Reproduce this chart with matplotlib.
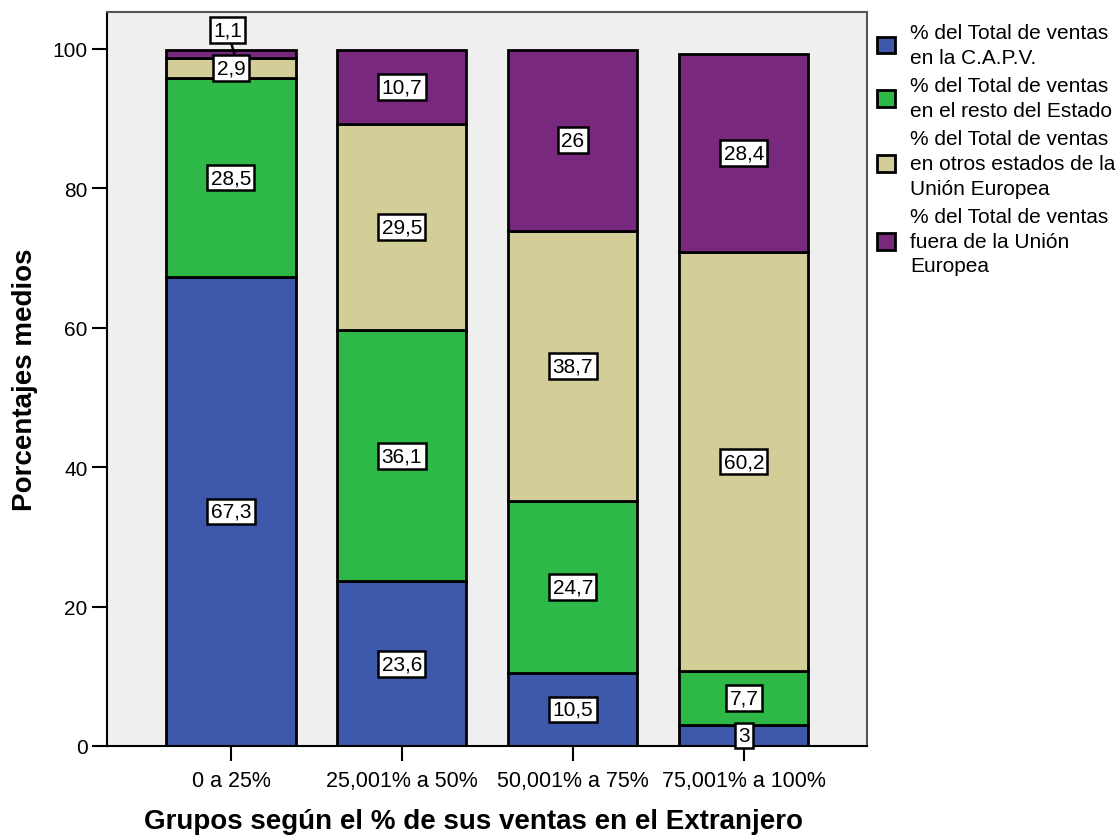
import matplotlib
matplotlib.use("Agg")
import matplotlib.pyplot as plt
from matplotlib.patches import Patch
import numpy as np

plt.rcParams['font.family'] = ['Liberation Sans', 'DejaVu Sans']

grupos = ["0 a 25%", "25,001% a 50%", "50,001% a 75%", "75,001% a 100%"]
series = [
    "% del Total de ventas\nen la C.A.P.V.",
    "% del Total de ventas\nen el resto del Estado",
    "% del Total de ventas\nen otros estados de la\nUnión Europea",
    "% del Total de ventas\nfuera de la Unión\nEuropea",
]
capv = [67.3, 23.6, 10.5, 3.0]
resto_estado = [28.5, 36.1, 24.7, 7.7]
otros_ue = [2.9, 29.5, 38.7, 60.2]
fuera_ue = [1.1, 10.7, 26.0, 28.4]
valores = [capv, resto_estado, otros_ue, fuera_ue]
colores = ["#3e58ac", "#2eb848", "#d3ce97", "#78287d"]

fig = plt.figure(figsize=(11.19, 8.37), dpi=100)
ax = fig.add_axes([107 / 1119, 1 - 747 / 837, (867 - 107) / 1119, (747 - 13) / 837])
ax.set_facecolor("#efefef")

x = np.arange(len(grupos))
ancho = 0.755
base = np.zeros(len(grupos))
for vals, col in zip(valores, colores):
    ax.bar(x, vals, ancho, bottom=base, color=col, edgecolor="black",
           linewidth=2, zorder=2)
    base = base + np.array(vals)


def fmt(v):
    s = ("%.1f" % v).replace(".", ",")
    return s[:-2] if s.endswith(",0") else s


caja = dict(boxstyle="square,pad=0.16", facecolor="white", edgecolor="black", linewidth=1.8)
base = np.zeros(len(grupos))
for si, vals in enumerate(valores):
    for gi, v in enumerate(vals):
        yc = base[gi] + v / 2
        if si == 3 and gi == 0:
            ax.annotate(fmt(v), xy=(gi + 0.02, yc), xytext=(gi - 0.02, 102.7),
                        ha="center", va="center", fontsize=15, bbox=caja,
                        arrowprops=dict(arrowstyle="-", color="black", lw=1.8,
                                        shrinkA=0, shrinkB=0), zorder=5)
        else:
            ax.text(gi, yc, fmt(v), ha="center", va="center", fontsize=15,
                    bbox=caja, zorder=5)
    base = base + np.array(vals)

ax.set_xlim(-0.725, 3.72)
ax.set_ylim(0, 105.3)
ax.set_yticks([0, 20, 40, 60, 80, 100])
ax.set_xticks(x)
ax.set_xticklabels(grupos)
ax.tick_params(axis="y", labelsize=15, length=11, width=1.5, pad=3)
ax.tick_params(axis="x", labelsize=15.5, length=11, width=1.5, pad=6.5)

for lado in ("left", "bottom"):
    ax.spines[lado].set_color("black")
    ax.spines[lado].set_linewidth(1.5)
for lado in ("top", "right"):
    ax.spines[lado].set_color("#555555")
    ax.spines[lado].set_linewidth(1.5)

fig.text(25 / 1119, 1 - 380 / 837, "Porcentajes medios", rotation=90,
         fontsize=20, fontweight="bold", ha="center", va="center")
fig.text(474 / 1119, 1 - 822 / 837, "Grupos según el % de sus ventas en el Extranjero",
         fontsize=20, fontweight="bold", ha="center", va="center")

handles = [Patch(facecolor=c, edgecolor="black", linewidth=2) for c in colores]
leyenda = fig.legend(handles, series, loc="upper left",
                     bbox_to_anchor=(877 / 1119, 1 - 24 / 837),
                     frameon=False, fontsize=15, handlelength=0.85, handleheight=0.85,
                     handletextpad=0.75, labelspacing=0.45, borderpad=0, borderaxespad=0)
for t in leyenda.get_texts():
    t.set_linespacing(1.38)

fig.savefig("out.png", dpi=100)
